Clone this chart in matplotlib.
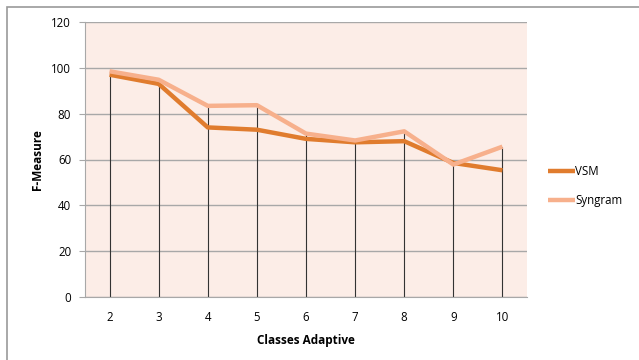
import matplotlib
matplotlib.use("Agg")
import matplotlib.pyplot as plt
from matplotlib.patches import Rectangle

classes = [2, 3, 4, 5, 6, 7, 8, 9, 10]
vsm = [97, 93, 74, 73, 69, 67.5, 68, 58.5, 55.3]
syngram = [98.5, 94.8, 83.4, 83.7, 71.3, 68.3, 72.3, 57.8, 65.6]
yticks = [0, 20, 40, 60, 80, 100, 120]

plt.rcParams['font.family'] = ['Open Sans', 'DejaVu Sans']

fig = plt.figure(figsize=(6.39, 3.6), dpi=100)
fig.patches.append(Rectangle((7/639, -0.1), 1.2, (360-7)/360 + 0.1, transform=fig.transFigure,
                             fill=False, edgecolor='#9a9a9a', linewidth=1.2))
ax = fig.add_axes([85/639, 63/360, 442/639, 275/360])
ax.set_facecolor('#FCEDE7')
ax.set_xlim(1.5, 10.5)
ax.set_ylim(0, 120)
ax.set_yticks(yticks)
ax.set_xticks(classes)
ax.yaxis.grid(True, color='#a8a8a8', linewidth=1)
ax.set_axisbelow(True)
for s in ['top', 'right']:
    ax.spines[s].set_visible(False)
for s in ['left', 'bottom']:
    ax.spines[s].set_color('#a8a8a8')
ax.tick_params(axis='y', length=4, color='#a8a8a8', labelsize=8.3, pad=6)
ax.tick_params(axis='x', length=0, labelsize=8.3, pad=10)

tops = [max(a, b) for a, b in zip(vsm, syngram)]
ax.vlines(classes, 0, tops, colors='#333333', linewidth=0.8, zorder=2)
ax.plot(classes, vsm, color='#E07C2E', linewidth=3.2, label='VSM', zorder=3, solid_capstyle='butt')
ax.plot(classes, syngram, color='#F7B08C', linewidth=3.2, label='Syngram', zorder=4, solid_capstyle='butt')

ax.set_ylabel('F-Measure', fontsize=8.5, fontweight='bold', labelpad=5)
ax.set_xlabel('Classes Adaptive', fontsize=8.5, fontweight='bold', labelpad=7)

leg = ax.legend(loc='center left', bbox_to_anchor=(1.025, 0.405), frameon=False, fontsize=8.3,
                handlelength=2.3, handletextpad=0.0, labelspacing=1.4)

fig.savefig('out.png', dpi=100)
